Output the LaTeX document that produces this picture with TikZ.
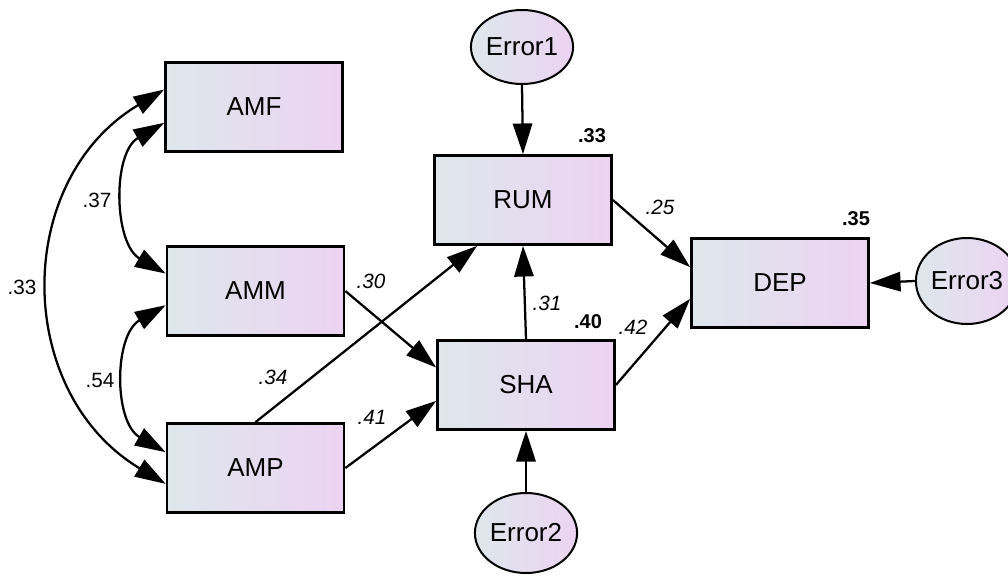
\documentclass[tikz,border=0pt]{standalone}
\usepackage{fontspec}
\setmainfont{Liberation Sans}
\usetikzlibrary{arrows.meta,shapes.geometric}
\definecolor{fillL}{RGB}{222,231,235}
\definecolor{fillR}{RGB}{236,211,242}

\begin{document}
\begin{tikzpicture}[x=0.75pt,y=-0.75pt,
  var/.style={draw, line width=1.8pt, rectangle, minimum width=133pt, minimum height=67pt,
    inner sep=0pt, left color=fillL, right color=fillR, font=\fontsize{19.5}{22}\selectfont},
  err/.style={draw, line width=1.5pt, ellipse, inner sep=0pt, left color=fillL, right color=fillR,
    font=\fontsize{19.5}{22}\selectfont},
  tip/.tip={Triangle[length=23pt,width=14.5pt]},
  regarrow/.style={line width=1.7pt, -tip},
  cov/.style={line width=1.7pt, tip-tip},
  coef/.style={font=\fontsize{15.5}{18}\selectfont\itshape, inner sep=0pt},
  rsq/.style={font=\fontsize{15}{18}\selectfont\bfseries, inner sep=0pt},
  corr/.style={font=\fontsize{15.5}{18}\selectfont, inner sep=0pt}]

\useasboundingbox (0,0) rectangle (1008,576);

% observed variables
\node[var] (AMF) at (254,107) {AMF};
\node[var] (AMM) at (255.5,291) {AMM};
\node[var] (AMP) at (255.5,468) {AMP};
\node[var] (RUM) at (523,200) {RUM};
\node[var] (SHA) at (526,385) {SHA};
\node[var] (DEP) at (780,283) {DEP};

% error terms
\node[err, minimum width=69pt, minimum height=55.5pt] (E1) at (522,47) {Error1};
\node[err, minimum width=70.5pt, minimum height=60pt] (E2) at (526,533) {Error2};
\node[err, minimum width=64.5pt, minimum height=64.5pt] (E3) at (967,281) {Error3};

% covariances among exogenous variables (control points allow for the tip shortening)
\draw[cov] (AMF.190) .. controls +(-52,30) and +(-52,-30) .. (AMM.169);
\draw[cov] (AMM.189) .. controls +(-52,30) and +(-52,-30) .. (AMP.170);
\draw[cov] (AMF.169) .. controls +(-152,91) and +(-152,-91) .. (AMP.190);

% regression paths
\draw[regarrow] (AMM.east) -- (SHA.169);
\draw[regarrow] (AMP.north) -- (RUM.225);
\draw[regarrow] (AMP.east) -- (SHA.190);
\draw[regarrow] (SHA.north) -- (RUM.south);
\draw[regarrow] (RUM.east) -- (DEP.170);
\draw[regarrow] (SHA.east) -- (DEP.190);
\draw[regarrow] (E1.south) -- (RUM.north);
\draw[regarrow] (E2.north) -- (SHA.south);
\draw[regarrow] (E3.west) -- (DEP.east);

% correlations
\node[corr] (c37) at (97,200) {.37};
\node[corr] (c54) at (100,380) {.54};
\node[corr] (c33) at (22,287) {.33};

% path coefficients
\node[coef] (p30) at (371,281) {.30};
\node[coef] (p34) at (273,377) {.34};
\node[coef] (p41) at (372,417) {.41};
\node[coef] (p31) at (547,303) {.31};
\node[coef] (p25) at (660,207) {.25};
\node[coef] (p42) at (633,327) {.42};

% squared multiple correlations
\node[rsq] (r33) at (592,136) {.33};
\node[rsq] (r40) at (588,322) {.40};
\node[rsq] (r35) at (856,219) {.35};

\end{tikzpicture}
\end{document}
